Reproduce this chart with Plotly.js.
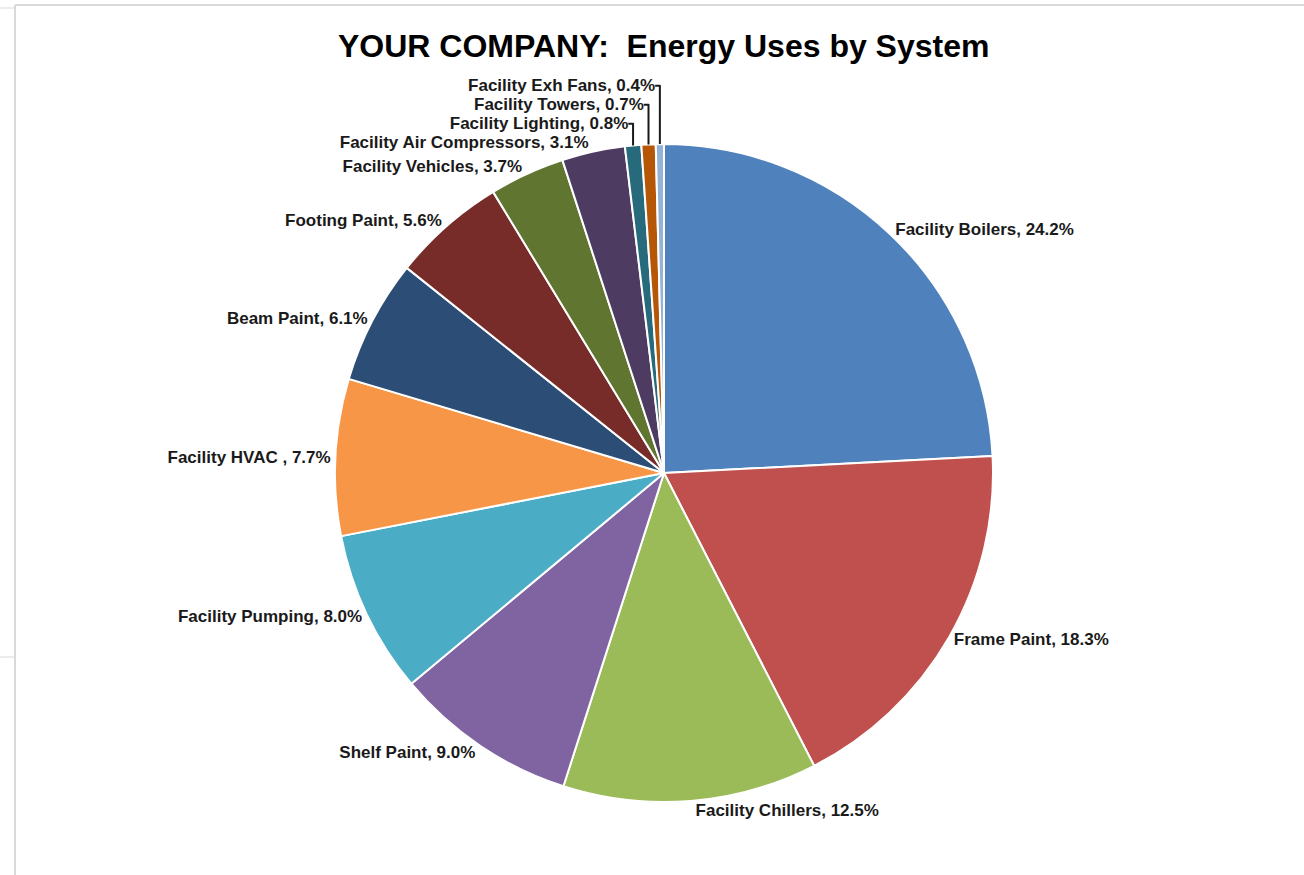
<!DOCTYPE html>
<html><head><meta charset="utf-8">
<script src="https://cdn.plot.ly/plotly-3.0.1.min.js"></script>
<style>body{margin:0;padding:0;background:#fff}#chart{width:1304px;height:875px}</style>
</head><body><div id="chart"></div>
<script>
const labels = ["Facility Boilers","Frame Paint","Facility Chillers","Shelf Paint","Facility Pumping","Facility HVAC ","Beam Paint","Footing Paint","Facility Vehicles","Facility Air Compressors","Facility Lighting","Facility Towers","Facility Exh Fans"];
const values = [24.2,18.3,12.5,9.0,8.0,7.7,6.1,5.6,3.7,3.1,0.8,0.7,0.4];
const colors = ["#4F81BD","#C0504D","#9BBB59","#8064A2","#4BACC6","#F79646","#2C4D75","#772C2A","#5F7530","#4D3B62","#276A7C","#B65708","#95B3D7"];
const titleText = "YOUR COMPANY:\u00a0 Energy Uses by System";

const labelFont = {family: "Liberation Sans, Arial, sans-serif", size: 17, color: "#1a1a1a", weight: "bold"};

const trace = {
  type: "pie",
  labels: labels,
  values: values,
  sort: false,
  direction: "clockwise",
  rotation: 0,
  marker: {colors: colors, line: {color: "#ffffff", width: 2}},
  textposition: "outside",
  texttemplate: "%{label}, %{value:.1f}%",
  textfont: labelFont,
  outsidetextfont: labelFont,
  hoverinfo: "label+percent",
  domain: {x: [0.2569, 0.7615], y: [0.0834, 0.8354]},
  showlegend: false
};

const layout = {
  width: 1304, height: 875,
  margin: {l: 0, r: 0, t: 0, b: 0},
  paper_bgcolor: "#ffffff",
  title: {text: titleText, x: 0.509, xanchor: "center", y: 0.948, yanchor: "middle",
          font: {family: "Liberation Sans, Arial, sans-serif", size: 32, color: "#000000", weight: "bold"}},
  shapes: [
    {type: "line", xref: "paper", yref: "paper", x0: 15/1304, x1: 1, y0: 1-5/875, y1: 1-5/875, line: {color: "#d9d9d9", width: 2}},
    {type: "line", xref: "paper", yref: "paper", x0: 15/1304, x1: 15/1304, y0: 0, y1: 1-5/875, line: {color: "#d9d9d9", width: 2}},
    {type: "line", xref: "paper", yref: "paper", x0: 0, x1: 14/1304, y0: 1-8/875, y1: 1-8/875, line: {color: "#d9d9d9", width: 1}},
    {type: "line", xref: "paper", yref: "paper", x0: 0, x1: 14/1304, y0: 1-657/875, y1: 1-657/875, line: {color: "#d9d9d9", width: 1}}
  ]
};

Plotly.newPlot("chart", [trace], layout, {displayModeBar: false, staticPlot: true});
</script></body></html>
